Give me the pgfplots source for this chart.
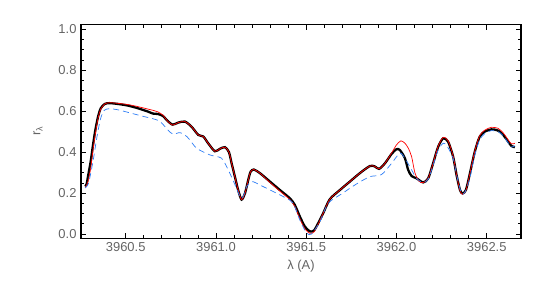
\documentclass[border=0pt]{standalone}
\usepackage{fontspec}
\setmainfont{Liberation Sans}
\usepackage{pgfplots}
\pgfplotsset{compat=1.18}
\definecolor{labgray}{RGB}{100,100,100}
\definecolor{modblue}{RGB}{45,125,245}
\begin{document}
\fontsize{13}{15}\selectfont
\begin{tikzpicture}[x=1bp,y=1bp]
\path[use as bounding box] (-81bp,-51.7bp) rectangle (464bp,238.3bp);
\begin{axis}[
  at={(0,0)}, anchor=south west,
  scale only axis, width=440bp, height=214bp,
  xmin=3960.2525, xmax=3962.69,
  ymin=-0.021, ymax=1.024,
  xtick={3960.5,3961.0,3961.5,3962.0,3962.5},
  ytick={0,0.2,0.4,0.6,0.8,1.0},
  minor x tick num=4, minor y tick num=3,
  major tick length=5.5bp, minor tick length=3.3bp,
  tick style={line width=0.6bp, black},
  axis line style={line width=1.1bp},
  tick label style={text=labgray, font=\fontsize{13}{15}\selectfont},
  /pgf/number format/assume math mode=true,
  xticklabel style={/pgf/number format/.cd, fixed, fixed zerofill, precision=1, 1000 sep={}},
  yticklabel style={/pgf/number format/.cd, fixed, fixed zerofill, precision=1},
  scaled x ticks=false,
  xlabel={λ (A)}, ylabel={r\textsubscript{λ}},
  label style={text=labgray, font=\fontsize{13}{15}\selectfont},
  xlabel style={at={(axis description cs:0.5,-0.131)}, anchor=center},
  ylabel style={at={(axis description cs:-0.0977,0.5)}, anchor=center},
  clip=true,
]
% observed (black)
\addplot[black, line width=2.3bp, smooth, tension=0.45] coordinates {
(3960.276,0.232) (3960.284,0.245) (3960.291,0.28) (3960.306,0.353) (3960.319,0.435)
(3960.332,0.508) (3960.347,0.573) (3960.362,0.614) (3960.384,0.635) (3960.411,0.639)
(3960.457,0.635) (3960.513,0.627) (3960.568,0.614) (3960.623,0.598) (3960.651,0.588)
(3960.679,0.586) (3960.707,0.576) (3960.730,0.554) (3960.760,0.534) (3960.791,0.544)
(3960.828,0.549) (3960.865,0.524) (3960.902,0.484) (3960.930,0.476) (3960.957,0.443)
(3960.994,0.404) (3961.022,0.416) (3961.050,0.424) (3961.072,0.400) (3961.087,0.345)
(3961.105,0.280) (3961.123,0.215) (3961.142,0.168) (3961.161,0.199) (3961.179,0.264)
(3961.192,0.304) (3961.210,0.315) (3961.244,0.297) (3961.299,0.256) (3961.354,0.215)
(3961.410,0.174) (3961.437,0.142) (3961.465,0.085) (3961.493,0.036) (3961.520,0.013)
(3961.543,0.017) (3961.566,0.052) (3961.594,0.101) (3961.631,0.170) (3961.687,0.215)
(3961.742,0.256) (3961.797,0.297) (3961.853,0.332) (3961.880,0.330) (3961.904,0.318)
(3961.936,0.345) (3961.973,0.391) (3962.000,0.414) (3962.019,0.410) (3962.047,0.370)
(3962.065,0.313) (3962.084,0.283) (3962.111,0.272) (3962.148,0.252) (3962.176,0.272)
(3962.203,0.345) (3962.231,0.426) (3962.259,0.467) (3962.286,0.451) (3962.314,0.378)
(3962.333,0.288) (3962.352,0.215) (3962.366,0.198) (3962.385,0.215) (3962.406,0.292)
(3962.434,0.402) (3962.461,0.475) (3962.489,0.500) (3962.527,0.511) (3962.563,0.505)
(3962.591,0.484) (3962.619,0.451) (3962.637,0.430) (3962.656,0.424)
};
% model (red)
\addplot[red, line width=0.7bp, smooth, tension=0.45] coordinates {
(3960.276,0.225) (3960.291,0.255) (3960.306,0.320) (3960.319,0.410) (3960.332,0.490)
(3960.347,0.565) (3960.362,0.610) (3960.384,0.635) (3960.411,0.641) (3960.457,0.638)
(3960.513,0.632) (3960.568,0.622) (3960.623,0.610) (3960.651,0.604) (3960.679,0.596)
(3960.707,0.580) (3960.730,0.553) (3960.760,0.532) (3960.791,0.544)
(3960.828,0.549) (3960.865,0.524) (3960.902,0.484) (3960.930,0.476) (3960.957,0.443)
(3960.994,0.404) (3961.022,0.416) (3961.050,0.424) (3961.072,0.400) (3961.087,0.345)
(3961.105,0.280) (3961.123,0.215) (3961.142,0.168) (3961.161,0.199) (3961.179,0.264)
(3961.192,0.304) (3961.210,0.315) (3961.244,0.297) (3961.299,0.252) (3961.354,0.210)
(3961.410,0.168) (3961.437,0.135) (3961.465,0.075) (3961.493,0.025) (3961.520,0.003)
(3961.543,0.010) (3961.566,0.048) (3961.594,0.101) (3961.631,0.170) (3961.687,0.215)
(3961.742,0.256) (3961.797,0.297) (3961.853,0.332) (3961.880,0.330) (3961.904,0.318)
(3961.936,0.345) (3961.973,0.395) (3962.000,0.435) (3962.025,0.455) (3962.047,0.443)
(3962.065,0.420) (3962.084,0.378) (3962.102,0.300) (3962.125,0.258) (3962.148,0.251)
(3962.176,0.272) (3962.203,0.345) (3962.231,0.428) (3962.259,0.472) (3962.286,0.455)
(3962.314,0.380) (3962.333,0.288) (3962.352,0.212) (3962.366,0.194) (3962.385,0.213)
(3962.406,0.292) (3962.434,0.405) (3962.461,0.480) (3962.489,0.507) (3962.527,0.521)
(3962.563,0.516) (3962.591,0.494) (3962.619,0.460) (3962.637,0.440) (3962.656,0.443)
};
% model (blue dashed)
\addplot[modblue, line width=0.7bp, dash pattern=on 6bp off 4bp, smooth, tension=0.45] coordinates {
(3960.276,0.225) (3960.295,0.250) (3960.320,0.360) (3960.340,0.470) (3960.360,0.560)
(3960.380,0.603) (3960.411,0.612) (3960.460,0.606) (3960.513,0.594) (3960.590,0.576)
(3960.650,0.563) (3960.690,0.550) (3960.734,0.508) (3960.763,0.487) (3960.800,0.495)
(3960.840,0.475) (3960.893,0.419) (3960.967,0.386) (3961.031,0.370) (3961.068,0.313)
(3961.094,0.264) (3961.142,0.174) (3961.170,0.231) (3961.200,0.256) (3961.244,0.239)
(3961.318,0.207) (3961.391,0.174) (3961.428,0.150) (3961.465,0.068) (3961.502,0.005)
(3961.530,0.000) (3961.576,0.060) (3961.622,0.150) (3961.700,0.198) (3961.780,0.245)
(3961.853,0.280) (3961.917,0.290) (3961.973,0.345) (3962.020,0.395) (3962.050,0.365)
(3962.084,0.313) (3962.111,0.272) (3962.148,0.251) (3962.176,0.268) (3962.203,0.335)
(3962.231,0.410) (3962.259,0.443) (3962.280,0.430) (3962.314,0.370) (3962.333,0.290)
(3962.360,0.199) (3962.380,0.205) (3962.406,0.270) (3962.434,0.385) (3962.461,0.460)
(3962.489,0.490) (3962.527,0.505) (3962.563,0.500) (3962.591,0.480) (3962.619,0.445)
(3962.637,0.425) (3962.656,0.430)
};
\end{axis}
\end{tikzpicture}
\end{document}
